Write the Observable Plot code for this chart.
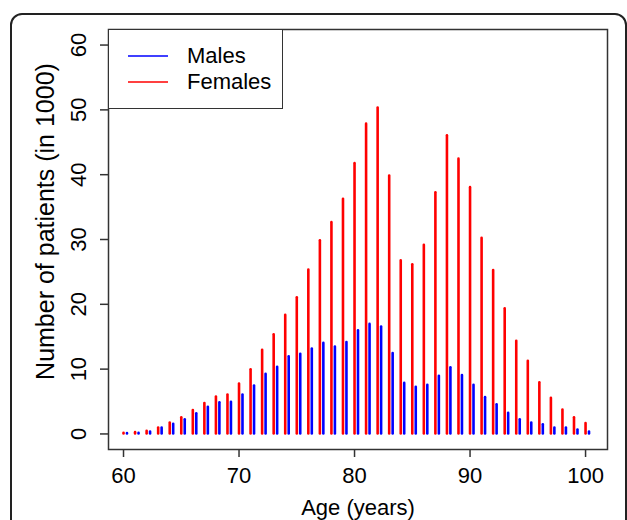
<!DOCTYPE html>
<html><head><meta charset="utf-8">
<script src="https://cdn.jsdelivr.net/npm/d3@7"></script>
<script src="https://cdn.jsdelivr.net/npm/@observablehq/plot@0.6"></script>
<style>
body{margin:0;background:#fff;overflow:hidden}
#wrap{position:relative;width:627px;height:520px;font-family:"Liberation Sans",Arial,sans-serif}
#wrap svg.plotsvg{position:absolute;left:0;top:0}
#outer{position:absolute;left:10px;top:13px;width:617px;height:600px;border:2px solid #222;border-radius:12px;box-sizing:border-box;pointer-events:none}
#legend{position:absolute;left:108px;top:29px;width:175px;height:80px;border:1.5px solid #333;background:#fff;box-sizing:border-box}
.item{position:absolute;left:0;height:26px;width:170px}
.item svg{position:absolute;left:18px;top:0}
.item .tx{position:absolute;left:78px;top:0;font-size:22px;line-height:26px;color:#000}
</style></head>
<body>
<div id="wrap">
  <div id="legend"></div>
  <div id="outer"></div>
</div>
<script>
const ages = [60,61,62,63,64,65,66,67,68,69,70,71,72,73,74,75,76,77,78,79,80,81,82,83,84,85,86,87,88,89,90,91,92,93,94,95,96,97,98,99,100];
const females = [0.1,0.2,0.4,0.9,1.7,2.5,3.6,4.7,5.7,6.0,7.7,9.9,12.9,15.3,18.3,21.0,25.3,29.8,32.6,36.2,41.7,47.8,50.3,39.8,26.7,26.1,29.1,37.2,46.0,42.4,38.0,30.2,25.2,19.3,14.3,11.2,7.9,5.5,3.7,2.5,1.6];
const males = [0.05,0.1,0.3,0.9,1.5,2.2,3.1,4.1,4.8,4.9,6.0,7.4,9.2,10.3,11.9,12.3,13.1,14.0,13.4,14.1,15.9,16.9,16.5,12.4,7.8,7.2,7.5,8.9,10.2,9.0,7.5,5.6,4.5,3.2,2.2,1.7,1.4,0.9,0.9,0.6,0.3];
const xTicks = [60,70,80,90,100];
const yTicks = [0,10,20,30,40,50,60];
const seriesNames = ["Males","Females"];
const seriesColors = ["#0000ff","#ff0000"];
const xTitle = "Age (years)";
const yTitle = "Number of patients (in 1000)";
const maleOffset = 0.3;

const femaleData = ages.map((a,i)=>({x:a, v:females[i]}));
const maleData = ages.map((a,i)=>({x:a+maleOffset, v:males[i]}));

const chart = Plot.plot({
  width: 627, height: 520,
  marginLeft: 108, marginRight: 20, marginTop: 29, marginBottom: 71,
  style: {background:"none", fontFamily:'"Liberation Sans", Arial, sans-serif', fontSize:"22px", color:"#000"},
  x: {domain:[58.7, 101.9]},
  y: {domain:[-2.4, 62.4]},
  marks: [
    Plot.ruleX(femaleData, {x:"x", y1:0, y2:"v", stroke:seriesColors[1], strokeWidth:2.6, strokeLinecap:"round"}),
    Plot.ruleX(maleData, {x:"x", y1:0, y2:"v", stroke:seriesColors[0], strokeWidth:2.6, strokeLinecap:"round"}),
    Plot.frame({stroke:"#333", strokeWidth:1.5}),
    Plot.axisX({ticks:xTicks, tickSize:8, tickPadding:10, label:null, stroke:"#333", strokeWidth:1.5, fontSize:22, fill:"#000"}),
    Plot.axisY({ticks:yTicks, tickSize:8, tickPadding:15, tickRotate:-90, label:null, stroke:"#333", strokeWidth:1.5, fontSize:22, fill:"#000"}),
    Plot.text([xTitle], {frameAnchor:"bottom", dy:65, fontSize:22, fill:"#000"}),
    Plot.text([yTitle], {frameAnchor:"left", dx:-63, dy:-18, rotate:-90, textAnchor:"middle", fontSize:25, fill:"#000"})
  ]
});
chart.classList.add("plotsvg");
const wrap = document.getElementById("wrap");
wrap.insertBefore(chart, wrap.firstChild);

const legend = document.getElementById("legend");
seriesNames.forEach((n,i)=>{
  const it = document.createElement("div");
  it.className = "item";
  it.style.top = (13 + i*26) + "px";
  it.innerHTML = `<svg width="42" height="26"><line x1="1" x2="41" y1="13" y2="13" stroke="${seriesColors[i]}" stroke-width="1.6"/></svg><div class="tx">${n}</div>`;
  legend.appendChild(it);
});
</script>
</body></html>
